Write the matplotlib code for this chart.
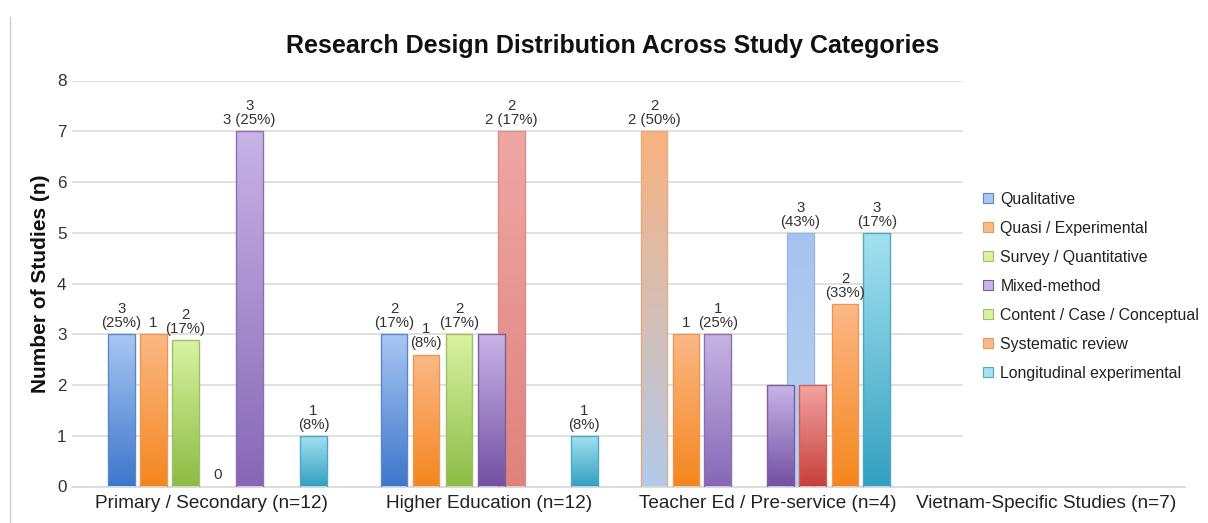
import numpy as np
import matplotlib
matplotlib.use("Agg")
import matplotlib.pyplot as plt
from matplotlib.colors import LinearSegmentedColormap
from matplotlib.patches import Patch

plt.rcParams['font.family'] = ['Liberation Sans', 'DejaVu Sans']

# data
categories = ['Primary / Secondary (n=12)', 'Higher Education (n=12)',
              'Teacher Ed / Pre-service (n=4)', 'Vietnam-Specific Studies (n=7)']
series_names = ['Qualitative', 'Quasi / Experimental', 'Survey / Quantitative',
                'Mixed-method', 'Content / Case / Conceptual', 'Systematic review',
                'Longitudinal experimental']

primary_values = [3, 3, 2.88, 0, 7, 1]
primary_labels = ['3\n(25%)', '1', '2\n(17%)', '0', '3\n3 (25%)', '1\n(8%)']

higher_values = [7, 3, 2.6, 3, 3, 1]
higher_labels = ['2\n2 (17%)', '2\n(17%)', '1\n(8%)', '2\n(17%)', '', '1\n(8%)']

teacher_values = [5, 7, 3, 3, 2, 2, 3.6, 5]
teacher_labels = ['3\n(43%)', '2\n2 (50%)', '1', '1\n(25%)', '', '', '2\n(33%)', '3\n(17%)']

vietnam_values = []
vietnam_labels = []

# layout / styles (slot offsets from group centre, in bar pitches)
primary_slots = [-2.8, -1.8, -0.8, 0.2, 1.2, 3.2]
primary_style = ['blue', 'orange', 'green', 'purple', 'purple_soft', 'cyan']
higher_slots = [0.69, -2.98, -1.98, -0.95, 0.06, 2.97]
higher_style = ['pink', 'blue', 'orange', 'green', 'purple', 'cyan']
teacher_slots = [1.02, -3.55, -2.55, -1.56, 0.41, 1.41, 2.42, 3.41]
teacher_style = ['lightblue', 'orange_blue', 'orange', 'purple_soft', 'purple', 'red', 'orange', 'cyan']

styles = {
    'blue':        ('#a9c7f3', '#3e76ca', '#5b87c6'),
    'orange':      ('#fcb886', '#f5861e', '#e5995a'),
    'green':       ('#daf3a2', '#8cbc44', '#9dbf6a'),
    'purple':      ('#c9b5e8', '#7350a3', '#7a5fa0'),
    'purple_soft': ('#c8b4e5', '#8667b6', '#8a70ad'),
    'cyan':        ('#a4e2f1', '#33a0c0', '#4fa9c4'),
    'red':         ('#f4a4a1', '#c63f3a', '#c46560'),
    'pink':        ('#f0a7a4', '#df827d', '#d88e8a'),
    'orange_blue': ('#f9b27f', '#b2caea', '#e8ab7e'),
    'lightblue':   ('#a6c2ee', '#bcd2f2', '#9db8e0'),
}
legend_style = ['blue', 'orange', 'green', 'purple', 'green', 'orange', 'cyan']

pitch = 32 / 278.25
width = 26.5 / 278.25

fig = plt.figure(figsize=(12.08, 5.23), dpi=100)
ax = fig.add_axes([72 / 1208, 36.5 / 523, 1113 / 1208, 406 / 523])

grad = np.linspace(0, 1, 256).reshape(-1, 1)


def grad_bar(x, h, style, z):
    top, bottom, edge = styles[style]
    if h <= 0:
        return
    bar = ax.bar(x, h, width, color='none', edgecolor=edge, linewidth=1.0, zorder=z + 0.5)[0]
    cmap = LinearSegmentedColormap.from_list('g', [bottom, top])
    im = ax.imshow(grad, cmap=cmap, origin='lower', aspect='auto',
                   extent=(x - width / 2, x + width / 2, 0, h), zorder=z)
    im.set_clip_path(bar)


groups = [
    (primary_values, primary_labels, primary_slots, primary_style),
    (higher_values, higher_labels, higher_slots, higher_style),
    (teacher_values, teacher_labels, teacher_slots, teacher_style),
    (vietnam_values, vietnam_labels, [], []),
]

z = 2
for gi, (vals, labs, slots, sty) in enumerate(groups):
    for v, lab, s, st in zip(vals, labs, slots, sty):
        x = gi + s * pitch
        grad_bar(x, v, st, z)
        z += 1
        if lab:
            ax.annotate(lab, (x, v), xytext=(0, 3), textcoords='offset points',
                        ha='center', va='bottom', fontsize=10.8, color='#333333',
                        linespacing=1.0, zorder=50)

# gridlines stop where the legend starts
for yv in range(1, 9):
    ax.axhline(yv, xmin=0, xmax=(962 - 72) / 1113, color='#dcdcdc', linewidth=1.2, zorder=1)

ax.set_xlim(-0.5, 3.5)
ax.set_ylim(0, 8)
ax.set_xticks(range(len(categories)))
ax.set_xticklabels(categories, fontsize=13.7, color='#222222')
ax.set_yticks(range(0, 9))
ax.tick_params(axis='y', length=0, pad=4, labelsize=12.3, labelcolor='#333333')
ax.tick_params(axis='x', length=0, pad=6)
for side in ['top', 'right', 'left']:
    ax.spines[side].set_visible(False)
ax.spines['bottom'].set_color('#d6d6d6')
ax.spines['bottom'].set_linewidth(1.2)

fig.text(41 / 1208, 1 - 284 / 523, 'Number of Studies (n)', rotation=90,
         ha='center', va='center', fontsize=15, fontweight='bold', color='#111111')
fig.text(613 / 1208, 1 - 53.5 / 523, 'Research Design Distribution Across Study Categories',
         ha='center', va='baseline', fontsize=18, fontweight='bold', color='#111111')

# page border line on the left
fig.add_artist(plt.Line2D([10 / 1208, 10 / 1208], [0, 1 - 17 / 523],
                          transform=fig.transFigure, color='#cccccc', linewidth=1))

handles = [Patch(facecolor=styles[s][0], edgecolor=styles[s][2], linewidth=0.8) for s in legend_style]
fig.legend(handles, series_names, loc='upper left',
           bbox_to_anchor=(983 / 1208, 1 - 192 / 523), frameon=False,
           borderpad=0, borderaxespad=0, handlelength=0.6, handleheight=0.6,
           handletextpad=0.5, labelspacing=0.88, fontsize=11.4, labelcolor='#222222')

fig.savefig('out.png', dpi=100)
